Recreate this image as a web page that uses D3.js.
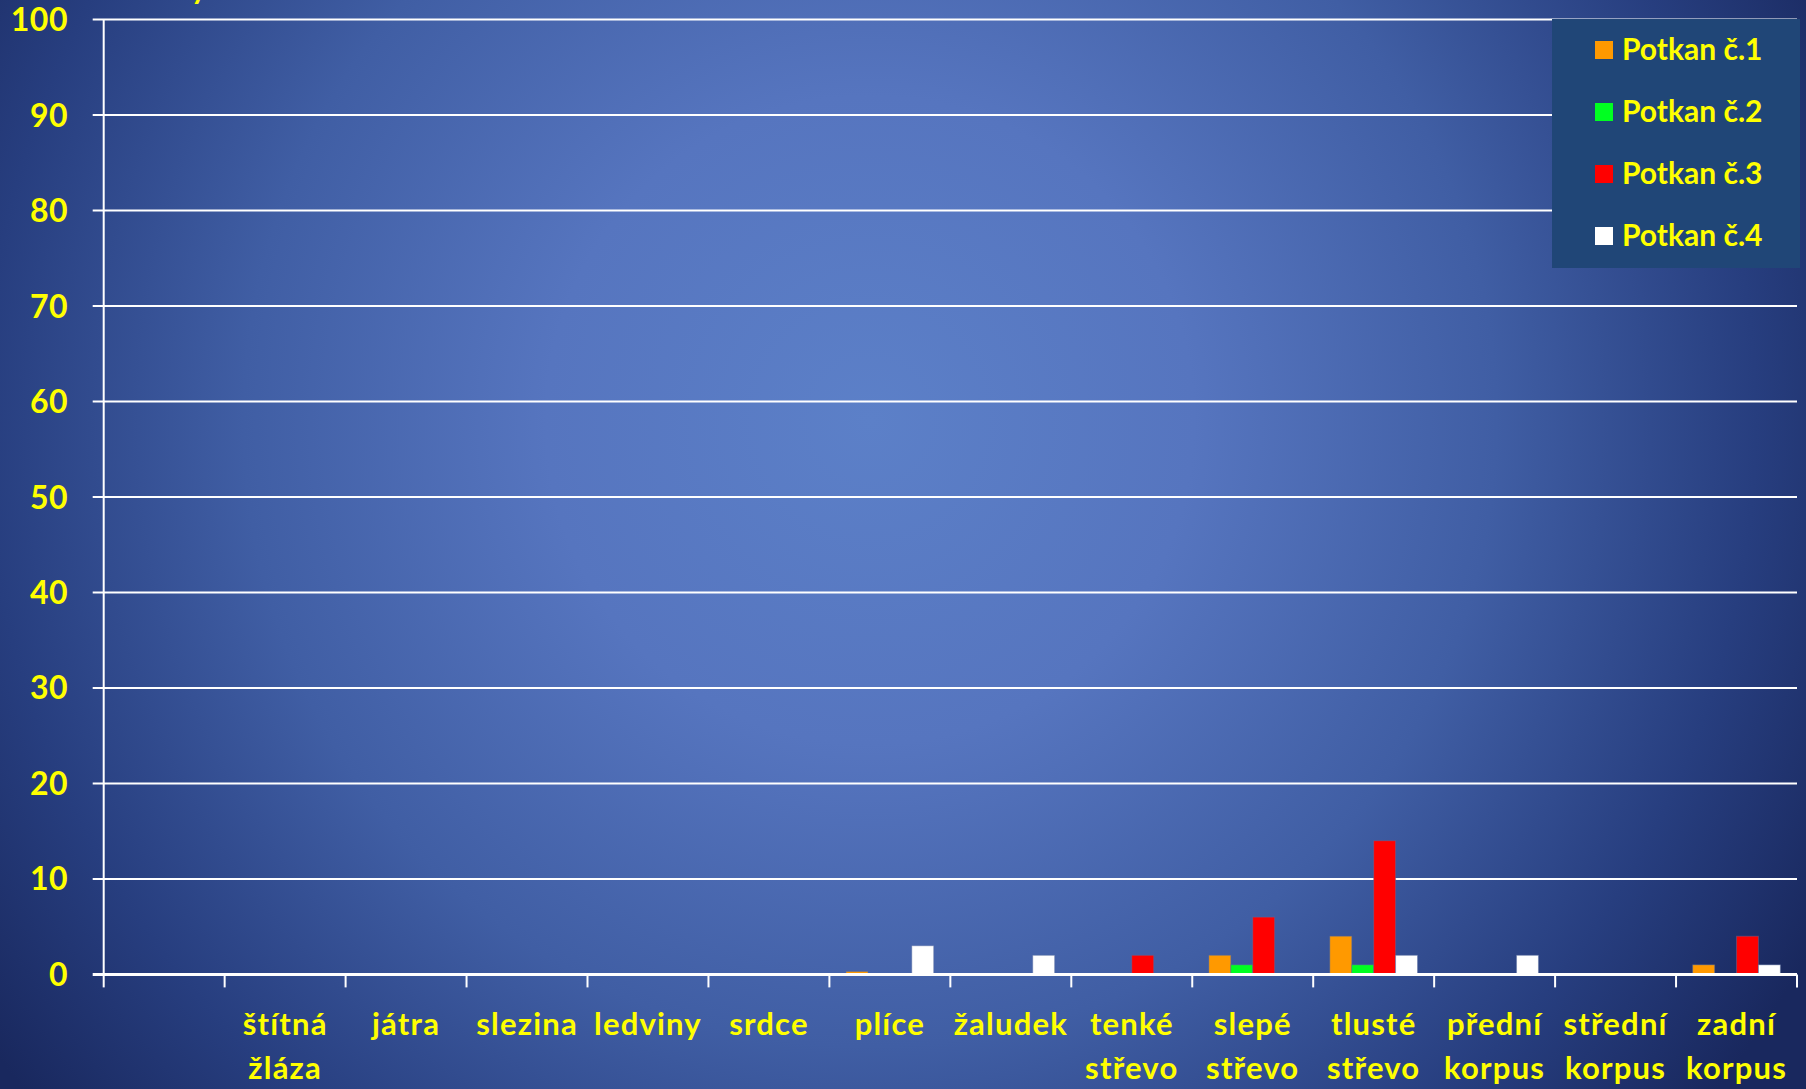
<!DOCTYPE html>
<html>
<head>
<meta charset="utf-8">
<script src="https://cdn.jsdelivr.net/npm/d3@7"></script>
<style>
  html, body { margin: 0; padding: 0; background: #1b2a62; overflow: hidden; }
  svg { display: block; font-family: Lato, "Open Sans", sans-serif; font-weight: 700; }
</style>
</head>
<body>
<svg id="chart"></svg>
<script>
// categories (first slot has no label in the original)
const categories = ['', 'štítná žláza', 'játra', 'slezina', 'ledviny', 'srdce', 'plíce',
  'žaludek', 'tenké střevo', 'slepé střevo', 'tlusté střevo', 'přední korpus',
  'střední korpus', 'zadní korpus'];

const seriesNames = ['Potkan č.1', 'Potkan č.2', 'Potkan č.3', 'Potkan č.4'];
const seriesColors = ['#ff9900', '#00ff21', '#ff0000', '#ffffff'];

const potkan1 = [0, 0, 0, 0, 0, 0, 0.3, 0, 0, 2, 4, 0, 0, 1];
const potkan2 = [0, 0, 0, 0, 0, 0, 0, 0, 0, 1, 1, 0, 0, 0];
const potkan3 = [0, 0, 0, 0, 0, 0, 0, 0, 2, 6, 14, 0, 0, 4];
const potkan4 = [0, 0, 0, 0, 0, 0, 3, 2, 0, 0, 2, 2, 0, 1];

const yTicks = [0, 10, 20, 30, 40, 50, 60, 70, 80, 90, 100];

const W = 1806, H = 1089;
const svg = d3.select('#chart').attr('width', W).attr('height', H);

// background radial gradient
const defs = svg.append('defs');
const grad = defs.append('radialGradient')
  .attr('id', 'bg')
  .attr('gradientUnits', 'userSpaceOnUse')
  .attr('cx', 870).attr('cy', 420).attr('r', 1080);
[[0, '#5c80c8'], [0.3, '#5675bf'], [0.58, '#405ea4'], [0.82, '#273e7f'], [1, '#19285e']]
  .forEach(([o, c]) => grad.append('stop').attr('offset', o).attr('stop-color', c));
svg.append('rect').attr('width', W).attr('height', H).attr('fill', 'url(#bg)');

const plotLeft = 103.7, plotRight = 1797, plotTop = 19.6, plotBottom = 974.4;

const x = d3.scaleBand().domain(d3.range(categories.length)).range([plotLeft, plotRight]).padding(0);
const x1 = d3.scaleBand().domain(seriesNames).range([0, x.bandwidth()]).paddingInner(0).paddingOuter(0.76);
const y = d3.scaleLinear().domain([0, 100]).range([plotBottom, plotTop]);

// gridlines + y tick marks
svg.append('g')
  .selectAll('line')
  .data(yTicks.filter(d => d > 0))
  .join('line')
  .attr('x1', plotLeft - 11).attr('x2', plotRight)
  .attr('y1', d => y(d)).attr('y2', d => y(d))
  .attr('stroke', '#ffffff').attr('stroke-width', 2);

// y tick labels
svg.append('g')
  .selectAll('text')
  .data(yTicks)
  .join('text')
  .attr('x', 68).attr('y', d => y(d) + 11.5)
  .attr('text-anchor', 'end')
  .attr('fill', '#ffff00')
  .style('font-size', '32px')
  .style('letter-spacing', '0.5px')
  .text(d => d);

// cut-off title fragment at the top edge
svg.append('text')
  .attr('x', 191).attr('y', -1)
  .attr('fill', '#ffff00')
  .style('font-size', '30px')
  .text('y');

// bars
const allSeries = [potkan1, potkan2, potkan3, potkan4];
allSeries.forEach((vals, si) => {
  svg.append('g')
    .selectAll('rect')
    .data(vals.map((v, i) => ({ v, i })).filter(d => d.v > 0))
    .join('rect')
    .attr('x', d => x(d.i) + x1(seriesNames[si]))
    .attr('y', d => y(d.v))
    .attr('width', x1.bandwidth())
    .attr('height', d => plotBottom - y(d.v))
    .attr('fill', seriesColors[si])
    .attr('stroke', 'rgba(90,110,160,0.45)')
    .attr('stroke-width', 1);
});

// y axis line
svg.append('line')
  .attr('x1', plotLeft).attr('x2', plotLeft).attr('y1', plotTop).attr('y2', plotBottom)
  .attr('stroke', '#ffffff').attr('stroke-width', 2);

// x axis line and ticks
svg.append('line')
  .attr('x1', plotLeft - 11).attr('x2', plotRight).attr('y1', plotBottom).attr('y2', plotBottom)
  .attr('stroke', '#ffffff').attr('stroke-width', 3);

svg.append('g')
  .selectAll('line')
  .data(d3.range(categories.length + 1))
  .join('line')
  .attr('x1', i => plotLeft + i * x.step()).attr('x2', i => plotLeft + i * x.step())
  .attr('y1', plotBottom).attr('y2', plotBottom + 13)
  .attr('stroke', '#ffffff').attr('stroke-width', 2);

// category labels, wrapped on spaces
const labels = svg.append('g')
  .selectAll('text')
  .data(categories)
  .join('text')
  .attr('x', (d, i) => x(i) + x.bandwidth() / 2)
  .attr('y', 1035)
  .attr('text-anchor', 'middle')
  .attr('fill', '#ffff00')
  .style('font-size', '31px')
  .style('letter-spacing', '1.2px');

labels.each(function (d) {
  const t = d3.select(this);
  d.split(' ').forEach((w, k) => {
    t.append('tspan')
      .attr('x', t.attr('x'))
      .attr('dy', k === 0 ? 0 : 44)
      .text(w);
  });
});

// legend
const legend = svg.append('g');
legend.append('rect')
  .attr('x', 1552).attr('y', 19).attr('width', 248).attr('height', 249)
  .attr('fill', '#204677');

const ly = d3.scalePoint().domain(seriesNames).range([50, 236]);
seriesNames.forEach((name, i) => {
  legend.append('rect')
    .attr('x', 1595).attr('y', ly(name) - 9)
    .attr('width', 18).attr('height', 18)
    .attr('fill', seriesColors[i]);
  legend.append('text')
    .attr('x', 1622).attr('y', ly(name) + 10)
    .attr('fill', '#ffff00')
    .style('font-size', '30px')
    .text(name);
});
</script>
</body>
</html>
